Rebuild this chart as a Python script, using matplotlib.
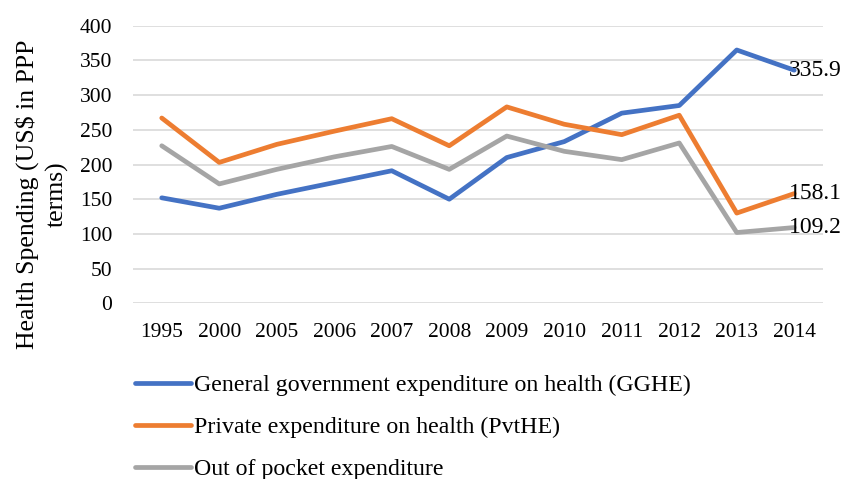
#Health spending per capita (US$ PPP) by type, 1995-2014
import matplotlib.pyplot as plt
import numpy as np
from matplotlib import rcParams

rcParams['font.family'] = 'serif'
rcParams['font.serif'] = ['Liberation Serif']
rcParams.update({'font.size': 15.5})

years = ['1995', '2000', '2005', '2006', '2007', '2008', '2009', '2010', '2011', '2012', '2013', '2014']
gghe = [152, 137, 157, 174, 191, 150, 210, 233, 274, 285, 365, 335.9]
pvthe = [267, 203, 229, 248, 266, 227, 283, 258, 243, 271, 130, 158.1]
oop = [227, 172, 193, 211, 226, 193, 241, 219, 207, 231, 102, 109.2]

series_names = ['General government expenditure on health (GGHE)',
                'Private expenditure on health (PvtHE)',
                'Out of pocket expenditure']
colors = ['#4472C4', '#ED7D31', '#A5A5A5']

x = np.arange(len(years))

fig = plt.figure(figsize=(8.45, 4.79), dpi=100)
ax = fig.add_axes([133/845, 1-303.3/479, 690/845, 277.6/479])

for vals, name, c in zip([gghe, pvthe, oop], series_names, colors):
    ax.plot(x, vals, color=c, linewidth=3.4, label=name, solid_capstyle='round', solid_joinstyle='round', zorder=3)
    # value label on the last point
    ax.annotate('%.1f' % vals[-1], (x[-1], vals[-1]), xytext=(-4, 0), textcoords='offset points',
                ha='left', va='center', fontsize=17, zorder=4)

ax.set_xlim(-0.5, len(years) - 0.5)
ax.set_ylim(0, 400)
ax.set_yticks(np.arange(0, 401, 50))
ax.set_xticks(x)
ax.set_xticklabels(years)
ax.yaxis.grid(True, color='#D9D9D9', linewidth=1.2)
ax.set_axisbelow(True)
for s in ax.spines.values():
    s.set_visible(False)
ax.tick_params(axis='y', length=0, pad=15)
ax.tick_params(axis='x', length=0, pad=14)

# two-line axis title, sitting a bit below the axes centre
fig.text(42/845, 1-194/479, 'Health Spending (US$ in PPP\nterms)', rotation=90,
         ha='center', va='center', multialignment='center', fontsize=18.5, linespacing=1.35)

fig.legend(loc='upper left', bbox_to_anchor=(118/845, 1-358/479), frameon=False,
           handlelength=2.35, handletextpad=0.15, labelspacing=0.85, fontsize=17.2,
           borderpad=0.2)

fig.savefig('out.png', dpi=100)
